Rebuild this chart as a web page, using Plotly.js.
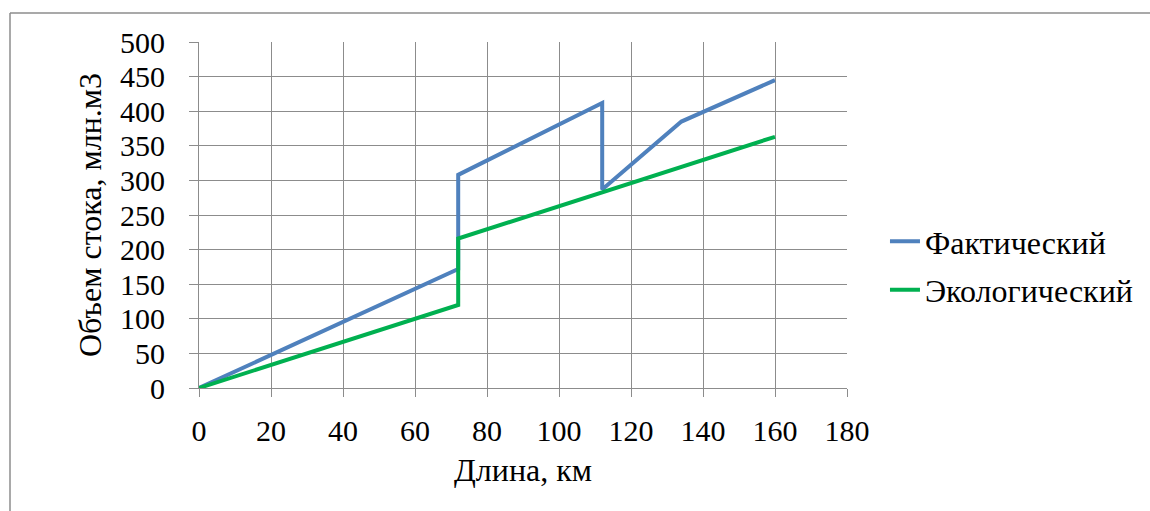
<!DOCTYPE html>
<html>
<head>
<meta charset="utf-8">
<script src="https://cdn.plot.ly/plotly-3.0.1.min.js"></script>
<style>
html,body{margin:0;padding:0;background:#fff;}
#chart{width:1150px;height:511px;}
</style>
</head>
<body>
<div id="chart"></div>
<script>
// Data
const factX = [0, 72, 72, 112, 112, 134, 160];
const factY = [0, 172, 308, 412, 287, 385, 445];
const ecoX = [0, 72, 72, 112, 160];
const ecoY = [0, 120, 216, 283, 363];
const seriesNames = ["Фактический", "Экологический"];
const xTitle = "Длина, км";
const yTitle = "Объем стока, млн.м3";

const FONT = "Liberation Serif, Times New Roman, serif";

const traces = [
  {x: factX, y: factY, name: seriesNames[0], mode: "lines", legendgroup: "a",
   line: {color: "#4F81BD", width: 4}},
  {x: ecoX, y: ecoY, name: seriesNames[1], mode: "lines", legendgroup: "b",
   line: {color: "#00B050", width: 4}}
];

const layout = {
  width: 1150, height: 511,
  margin: {l: 199, r: 303, t: 42, b: 123},
  paper_bgcolor: "#fff", plot_bgcolor: "#fff",
  font: {family: FONT, size: 30, color: "#000"},
  showlegend: true,
  legend: {x: 1.0586, xanchor: "left", y: 0.353, yanchor: "middle",
           font: {family: FONT, size: 32, color: "#000"},
           traceorder: "grouped", tracegroupgap: 4, bgcolor: "rgba(0,0,0,0)"},
  xaxis: {range: [0, 180], tickvals: [0,20,40,60,80,100,120,140,160,180],
          showgrid: true, gridcolor: "#8c8c8c", gridwidth: 1,
          showline: true, linecolor: "#8c8c8c", linewidth: 1,
          ticks: "outside", ticklen: 8, tickcolor: "#8c8c8c",
          zeroline: false, ticklabelstandoff: 8,
          tickfont: {family: FONT, size: 30, color: "#000"},
          title: {text: xTitle, standoff: 12, font: {family: FONT, size: 32, color: "#000"}}},
  yaxis: {range: [0, 500], tickvals: [0,50,100,150,200,250,300,350,400,450,500],
          showgrid: true, gridcolor: "#8c8c8c", gridwidth: 1,
          showline: true, linecolor: "#8c8c8c", linewidth: 1,
          ticks: "outside", ticklen: 9, tickcolor: "#8c8c8c",
          zeroline: false, ticklabelstandoff: 18,
          tickfont: {family: FONT, size: 30, color: "#000"},
          title: {text: yTitle, standoff: 8, font: {family: FONT, size: 32, color: "#000"}}},
  shapes: [
    {type: "line", xref: "paper", yref: "paper", x0: (10-199)/648, x1: (1150-199)/648,
     y0: (388-13)/346, y1: (388-13)/346, line: {color: "#8c8c8c", width: 1.5}},
    {type: "line", xref: "paper", yref: "paper", x0: (10-199)/648, x1: (10-199)/648,
     y0: (388-13)/346, y1: (388-511)/346, line: {color: "#8c8c8c", width: 1.5}}
  ]
};

Plotly.newPlot("chart", traces, layout, {displayModeBar: false, staticPlot: true});
</script>
</body>
</html>
